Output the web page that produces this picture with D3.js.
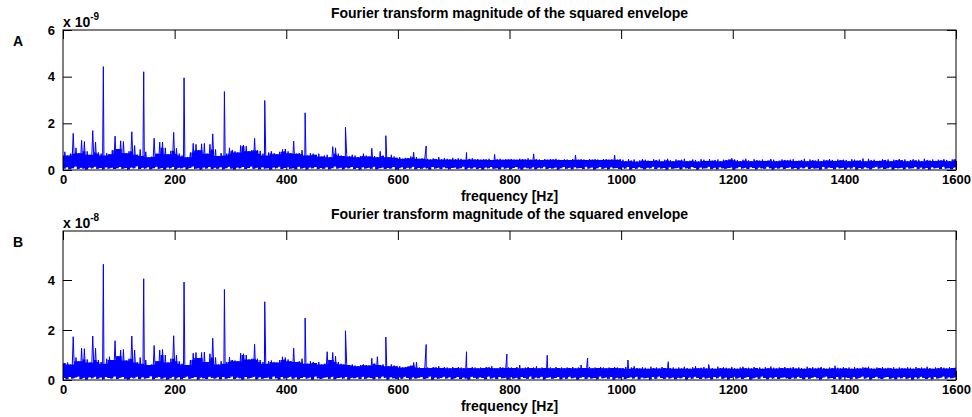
<!DOCTYPE html>
<html>
<head>
<meta charset="utf-8">
<script src="https://cdn.jsdelivr.net/npm/d3@7"></script>
<style>
  body { margin: 0; background: #fff; }
  svg text { font-family: "Liberation Sans", Arial, Helvetica, sans-serif; font-weight: bold; fill: #000; }
</style>
</head>
<body>
<svg id="chart" width="972" height="417"></svg>
<script>
// Spectrum of the squared envelope, 0-1600 Hz, two measurements (A, B).
// Noise floor is stored per 5 Hz bin as its lowest and highest magnitude;
// the bearing-fault harmonics are stored separately.

const binWidthHz = 5;

const harmonicHz = [72.3, 144.6, 216.9, 289.2, 361.5, 433.8, 506.1, 578.4,
  650.7, 723.0, 795.3, 867.6, 939.9, 1012.2, 1084.5, 1156.8];

// harmonic magnitudes, panel A in units of 1e-9, panel B in units of 1e-8
const harmonicA = [4.43, 4.21, 3.95, 3.36, 2.98, 2.45, 1.83, 1.47, 1.03, 0.75];
const harmonicB = [4.63, 4.05, 3.92, 3.62, 3.13, 2.48, 1.97, 1.72, 1.42, 1.13,
  1.04, 0.99, 0.88, 0.80, 0.73, 0.62];

// panel A noise, highest value in each 5 Hz bin (x 1e-9)
const hiA = [
  .78,.62,.70,1.57,.95,.72,1.27,1.22,.80,.65,1.69,1.20,.75,.70,.62,.72,.68,.85,1.45,.90,
  1.25,1.22,.72,.80,1.64,1.05,.65,.88,.60,.78,.55,.57,1.36,.70,1.19,1.20,.95,.68,.82,1.61,
  .93,.70,.62,.58,.55,.75,1.14,1.10,.85,1.12,1.14,.70,1.10,1.55,.88,.60,.72,.62,.70,.95,
  .86,.80,.75,1.05,1.07,1.02,.80,.85,1.36,.85,.82,.70,.62,.75,.80,.72,.68,.78,.88,.90,
  .80,.72,1.24,.70,.72,.85,.68,.62,.72,.70,.65,.70,.58,.62,.65,.55,1.00,.95,.70,.62,
  .60,.66,.58,.65,.62,.55,.60,.70,.62,.58,.93,.60,.55,.80,.62,.60,.55,.65,.58,.52,
  .55,.48,.52,.50,.58,.76,.55,.48,.50,.52,.48,.45,.50,.47,.55,.45,.50,.48,.45,.52,
  .45,.50,.48,.44,.46,.48,.50,.45,.47,.44,.46,.45,.48,.43,.67,.45,.48,.44,.46,.45,
  .47,.45,.44,.48,.46,.45,.50,.44,.69,.46,.45,.43,.47,.44,.46,.45,.48,.44,.43,.46,
  .45,.43,.47,.64,.44,.46,.45,.43,.47,.44,.46,.45,.43,.47,.46,.44,.45,.64,.44,.46,
  .44,.38,.46,.40,.45,.36,.41,.47,.44,.40,.39,.46,.42,.45,.37,.44,.48,.42,.38,.45,
  .41,.44,.48,.38,.40,.45,.43,.36,.46,.44,.39,.47,.40,.43,.45,.37,.44,.42,.46,.50,
  .45,.42,.38,.44,.48,.41,.37,.46,.42,.40,.45,.39,.41,.47,.44,.38,.40,.45,.43,.41,
  .44,.46,.39,.40,.43,.48,.37,.45,.43,.40,.46,.38,.44,.41,.47,.43,.39,.45,.42,.44,
  .43,.38,.46,.44,.40,.42,.49,.37,.48,.41,.44,.39,.40,.46,.43,.45,.38,.44,.42,.47,
  .42,.45,.38,.43,.46,.41,.44,.37,.48,.43,.40,.45,.39,.44,.41,.46,.43,.38,.45,.47
];

// panel A noise, lowest value in each 5 Hz bin (x 1e-9)
const loA = [
  .05,.12,.03,.08,.15,.04,.10,.06,.02,.11,.07,.14,.05,.09,.03,.12,.06,.10,.04,.08,
  .13,.05,.09,.02,.11,.07,.16,.04,.10,.06,.12,.03,.08,.14,.05,.09,.02,.11,.07,.13,
  .04,.10,.07,.12,.03,.09,.15,.05,.08,.02,.11,.06,.13,.04,.10,.05,.12,.03,.08,.14,
  .06,.02,.11,.07,.13,.04,.09,.15,.05,.10,.03,.12,.06,.08,.02,.11,.07,.14,.04,.09,
  .12,.05,.08,.03,.14,.06,.10,.02,.11,.07,.13,.04,.09,.05,.12,.03,.08,.15,.06,.10,
  .03,.11,.07,.13,.04,.09,.02,.12,.06,.10,.05,.14,.03,.08,.11,.04,.09,.06,.13,.02,
  .08,.12,.04,.10,.06,.14,.03,.09,.05,.11,.07,.02,.13,.06,.10,.04,.12,.08,.03,.09,
  .11,.05,.08,.14,.03,.10,.06,.12,.04,.09,.02,.11,.07,.13,.05,.08,.03,.12,.06,.10,
  .04,.09,.13,.06,.02,.11,.08,.05,.12,.03,.10,.07,.14,.04,.09,.06,.11,.02,.08,.13,
  .05,.10,.03,.12,.07,.09,.04,.14,.06,.11,.02,.08,.13,.05,.10,.03,.12,.07,.09,.04,
  .11,.06,.13,.02,.09,.05,.12,.08,.03,.10,.07,.14,.04,.11,.06,.09,.02,.12,.05,.08,
  .10,.03,.12,.07,.05,.13,.09,.02,.11,.06,.08,.14,.04,.10,.03,.12,.07,.05,.09,.11,
  .02,.08,.13,.06,.10,.04,.12,.09,.03,.11,.07,.05,.14,.08,.02,.10,.06,.12,.04,.09,
  .12,.05,.09,.03,.11,.07,.14,.04,.10,.06,.08,.02,.13,.05,.11,.09,.03,.12,.07,.10,
  .04,.11,.06,.13,.02,.09,.05,.12,.08,.03,.10,.14,.06,.11,.04,.08,.12,.02,.09,.07,
  .10,.03,.12,.06,.08,.13,.04,.11,.05,.09,.02,.12,.07,.10,.04,.14,.06,.08,.03,.11
];

// panel B noise, highest value in each 5 Hz bin (x 1e-8)
const hiB = [
  .67,.70,.62,1.73,.90,.75,1.27,1.25,.82,.70,1.76,1.27,.80,.72,.65,.85,.93,.80,1.57,.95,
  1.20,1.22,.78,.85,1.76,1.20,.70,.90,.65,.80,.60,.62,1.38,.75,1.20,1.22,1.00,.70,.85,1.77,
  1.00,.75,.65,.62,.60,.80,1.07,1.10,.88,1.10,1.12,.72,1.05,1.67,.90,.62,.75,.65,.72,.92,
  .80,.78,.75,1.07,1.05,1.00,.82,.85,1.43,.85,.80,.72,.65,.75,.78,.72,.70,.80,.93,.90,
  .82,.75,1.27,.72,.75,.85,.70,.65,.75,.72,.68,.72,.62,.65,1.13,.80,1.10,.95,.72,.65,
  .62,.65,.60,.62,.58,.55,.60,.62,.60,.58,.87,.65,.93,.60,.62,.58,.55,.62,.58,.55,
  .55,.50,.52,.55,.58,.70,.72,.50,.48,.52,.50,.48,.52,.50,.55,.48,.52,.50,.47,.52,
  .48,.52,.50,.47,.55,.48,.52,.50,.47,.50,.48,.52,.50,.55,.48,.47,.52,.50,.48,.50,
  .50,.48,.52,.60,.47,.50,.52,.48,.50,.55,.47,.50,.48,.52,.50,.47,.52,.48,.50,.47,
  .50,.48,.52,.47,.50,.60,.48,.50,.52,.47,.50,.48,.52,.50,.47,.50,.48,.52,.50,.48,
  .47,.52,.45,.50,.55,.48,.46,.51,.49,.45,.53,.47,.50,.46,.52,.48,.50,.47,.50,.45,
  .50,.46,.53,.48,.45,.51,.55,.47,.49,.52,.46,.50,.48,.45,.53,.47,.51,.49,.46,.52,
  .48,.45,.50,.53,.47,.49,.46,.52,.48,.50,.45,.51,.47,.54,.49,.46,.50,.48,.52,.47,
  .49,.52,.46,.50,.48,.45,.53,.47,.51,.46,.49,.52,.48,.45,.50,.47,.57,.49,.46,.51,
  .47,.50,.45,.52,.48,.46,.51,.49,.53,.47,.45,.50,.48,.52,.46,.49,.47,.51,.45,.50,
  .48,.46,.51,.49,.45,.52,.47,.50,.46,.53,.48,.45,.50,.47,.52,.49,.46,.51,.48,.50
];

// panel B noise, lowest value in each 5 Hz bin (x 1e-8)
const loB = [
  .08,.03,.12,.06,.10,.14,.04,.09,.02,.11,.07,.13,.05,.10,.03,.12,.08,.06,.14,.04,
  .09,.12,.05,.02,.10,.07,.13,.04,.11,.06,.08,.15,.03,.09,.12,.05,.10,.02,.07,.13,
  .06,.11,.03,.09,.14,.05,.08,.12,.02,.10,.07,.04,.13,.09,.06,.11,.03,.12,.05,.08,
  .14,.04,.10,.07,.02,.12,.06,.09,.13,.03,.11,.05,.08,.10,.04,.14,.07,.02,.12,.06,
  .09,.13,.05,.11,.03,.08,.12,.06,.10,.02,.14,.07,.04,.09,.11,.05,.13,.03,.08,.10,
  .06,.12,.02,.09,.07,.11,.04,.13,.05,.10,.08,.03,.12,.06,.14,.09,.02,.11,.07,.04,
  .10,.05,.13,.08,.03,.11,.06,.09,.12,.04,.07,.14,.02,.10,.05,.08,.13,.06,.11,.03,
  .07,.12,.04,.10,.06,.02,.13,.09,.05,.11,.08,.03,.14,.06,.10,.04,.12,.07,.09,.02,
  .11,.06,.09,.03,.12,.08,.05,.14,.04,.10,.07,.13,.02,.09,.11,.05,.08,.12,.03,.10,
  .05,.13,.07,.10,.02,.09,.12,.04,.11,.06,.08,.03,.14,.07,.10,.05,.12,.02,.09,.06,
  .12,.04,.08,.11,.06,.13,.03,.10,.07,.09,.02,.12,.05,.14,.08,.04,.11,.06,.10,.03,
  .09,.07,.12,.02,.10,.05,.13,.08,.04,.11,.06,.09,.03,.12,.07,.14,.05,.10,.02,.08,
  .13,.06,.10,.04,.09,.12,.02,.07,.11,.05,.14,.08,.03,.10,.06,.12,.04,.09,.11,.07,
  .04,.10,.06,.13,.08,.03,.11,.05,.09,.12,.07,.02,.10,.14,.06,.08,.04,.12,.03,.11,
  .10,.08,.03,.12,.05,.09,.14,.06,.11,.02,.08,.13,.07,.04,.10,.12,.05,.09,.03,.11,
  .07,.12,.05,.09,.02,.11,.06,.13,.08,.04,.10,.03,.12,.06,.09,.14,.05,.11,.07,.10
];

const xTicks = [0, 200, 400, 600, 800, 1000, 1200, 1400, 1600];
const yTicksA = [0, 2, 4, 6];
const yTicksB = [0, 2, 4];

const titleText = "Fourier transform magnitude of the squared envelope";
const xLabelText = "frequency [Hz]";

// ---- layout ----
const plotLeft = 63, plotRight = 956;
const tickLen = 9;
const lineColor = "#0000ff";

const panels = [
  { name: "A", exponent: "-9", hi: hiA, lo: loA, peaks: harmonicA, yTicks: yTicksA,
    yMax: 6, top: 30, bottom: 170 },
  { name: "B", exponent: "-8", hi: hiB, lo: loB, peaks: harmonicB, yTicks: yTicksB,
    yMax: 5.96, top: 231, bottom: 380 }
];

const svg = d3.select("#chart");

const x = d3.scaleLinear().domain([0, 1600]).range([plotLeft, plotRight]);

// merge the per-bin min/max noise with the harmonic lines into one trace
function buildTrace(hi, lo, peaks) {
  const pts = [];
  hi.forEach((h, i) => {
    pts.push([i * binWidthHz + 0.8, lo[i]]);
    pts.push([i * binWidthHz + 3.3, h]);
  });
  peaks.forEach((a, k) => pts.push([harmonicHz[k], a]));
  pts.sort((p, q) => p[0] - q[0]);
  return pts;
}

// solid part of the noise band: the level shared by a bin and its neighbours,
// so that single-bin spikes are left to the thin trace
function buildBand(hi, lo) {
  const rows = hi.map((h, i) => ({
    f: i * binWidthHz,
    lo: lo[i],
    top: Math.min(h, hi[Math.max(0, i - 1)], hi[Math.min(hi.length - 1, i + 1)])
  }));
  const last = rows[rows.length - 1];
  rows.push({ f: last.f + binWidthHz, lo: last.lo, top: last.top });
  return rows;
}

panels.forEach((p, idx) => {
  const y = d3.scaleLinear().domain([0, p.yMax]).range([p.bottom, p.top]);
  const g = svg.append("g");

  // ticks (pointing inward on all four sides)
  const bottomAxis = d3.axisBottom(x).tickValues(xTicks).tickFormat(d3.format("d"))
    .tickSizeInner(-tickLen).tickSizeOuter(0).tickPadding(5);
  const topAxis = d3.axisTop(x).tickValues(xTicks).tickFormat("")
    .tickSizeInner(-tickLen).tickSizeOuter(0);
  const leftAxis = d3.axisLeft(y).tickValues(p.yTicks).tickFormat(d3.format("d"))
    .tickSizeInner(-tickLen).tickSizeOuter(0).tickPadding(8);
  const rightAxis = d3.axisRight(y).tickValues(p.yTicks).tickFormat("")
    .tickSizeInner(-tickLen).tickSizeOuter(0);

  const axes = [
    [bottomAxis, `translate(0,${p.bottom})`],
    [topAxis, `translate(0,${p.top})`],
    [leftAxis, `translate(${plotLeft},0)`],
    [rightAxis, `translate(${plotRight},0)`]
  ];
  axes.forEach(([ax, tr]) => {
    const a = g.append("g").attr("transform", tr).call(ax);
    a.select(".domain").remove();
    a.selectAll("line").attr("stroke", "#000").attr("stroke-width", 1);
    a.selectAll("text").attr("font-size", 13)
      .attr("font-family", '"Liberation Sans", Arial, sans-serif')
      .attr("font-weight", "bold").attr("fill", "#000");
  });

  const clipId = "clip" + idx;
  svg.append("clipPath").attr("id", clipId).append("rect")
    .attr("x", plotLeft).attr("y", p.top)
    .attr("width", plotRight - plotLeft).attr("height", p.bottom - p.top);

  const plot = g.append("g").attr("clip-path", `url(#${clipId})`);

  // dense noise band
  plot.append("path")
    .datum(buildBand(p.hi, p.lo))
    .attr("fill", lineColor)
    .attr("stroke", "none")
    .attr("d", d3.area().curve(d3.curveStepAfter)
      .x(d => x(d.f)).y0(d => y(d.lo)).y1(d => y(d.top)));

  // the spectrum trace with its harmonic lines
  plot.append("path")
    .datum(buildTrace(p.hi, p.lo, p.peaks))
    .attr("fill", "none")
    .attr("stroke", lineColor)
    .attr("stroke-width", 1)
    .attr("d", d3.line().x(d => x(d[0])).y(d => y(d[1])));

  // axes box
  g.append("rect")
    .attr("x", plotLeft).attr("y", p.top)
    .attr("width", plotRight - plotLeft).attr("height", p.bottom - p.top)
    .attr("fill", "none").attr("stroke", "#000").attr("stroke-width", 1);

  // title
  g.append("text")
    .attr("x", (plotLeft + plotRight) / 2)
    .attr("y", p.top - 12)
    .attr("text-anchor", "middle")
    .attr("font-size", 14)
    .text(titleText);

  // x label
  g.append("text")
    .attr("x", (plotLeft + plotRight) / 2)
    .attr("y", p.bottom + 31)
    .attr("text-anchor", "middle")
    .attr("font-size", 14)
    .text(xLabelText);

  // exponent multiplier
  const mult = g.append("text")
    .attr("x", plotLeft)
    .attr("y", p.top - 3)
    .attr("font-size", 14);
  mult.append("tspan").text("x 10");
  mult.append("tspan").attr("dy", -7).attr("font-size", 10).text(p.exponent);

  // panel letter
  g.append("text")
    .attr("x", 13)
    .attr("y", p.top + 16)
    .attr("font-size", 14)
    .text(p.name);
});
</script>
</body>
</html>
